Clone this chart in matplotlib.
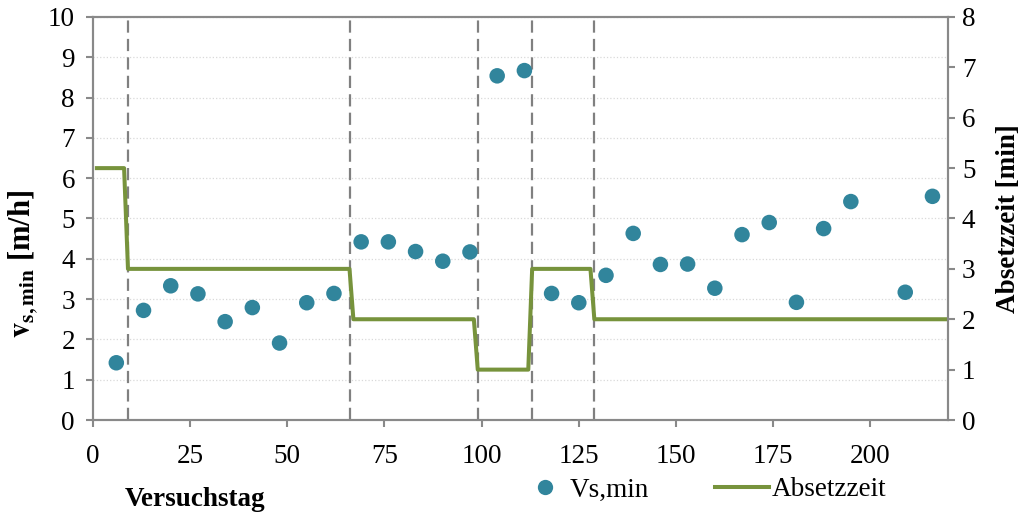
import numpy as np
import matplotlib
matplotlib.use('Agg')
import matplotlib.pyplot as plt
from matplotlib.lines import Line2D

plt.rcParams['font.family'] = ['Liberation Serif', 'DejaVu Serif']
plt.rcParams['mathtext.fontset'] = 'stix'
fs = 19.5

# Versuchstag / Vs,min [m/h]
tag = [6, 13, 20, 27, 34, 41, 48, 55, 62, 69, 76, 83, 90, 97, 104, 111,
       118, 125, 132, 139, 146, 153, 160, 167, 174, 181, 188, 195, 209, 216]
vs_min = [1.42, 2.72, 3.33, 3.13, 2.44, 2.79, 1.91, 2.91, 3.14, 4.42, 4.42, 4.18,
          3.94, 4.17, 8.54, 8.67, 3.14, 2.91, 3.59, 4.63, 3.86, 3.87, 3.27, 4.60,
          4.90, 2.92, 4.75, 5.42, 3.17, 5.55]

# Absetzzeit [min]
abs_tag = [1, 8, 9, 66, 67, 98, 99, 112, 113, 128, 129, 220]
abs_min = [5, 5, 3, 3, 2, 2, 1, 1, 3, 3, 2, 2]

# Phasengrenzen
grenzen = [9, 66, 99, 113, 129]

blau = '#31859C'
gruen = '#77933C'
grau = '#898989'

fig = plt.figure(figsize=(10.22, 5.15), dpi=100)
ax1 = fig.add_axes([93/1022, 1-420/515, (948-93)/1022, (420-17)/515])
ax2 = ax1.twinx()

for g in grenzen:
    ax1.axvline(g, color='#808080', lw=1.6, dashes=(5.5, 2.8), zorder=1)

ax1.scatter(tag, vs_min, s=125, color=blau, edgecolors='none', zorder=3)
ax2.plot(abs_tag, abs_min, color=gruen, lw=2.9, zorder=2)

ax1.set_xlim(0, 220)
ax1.set_ylim(0, 10)
ax2.set_ylim(0, 8)
ax1.set_xticks(np.arange(0, 201, 25))
ax1.set_yticks(np.arange(0, 11, 1))
ax2.set_yticks(np.arange(0, 9, 1))

ax1.yaxis.grid(True, color='#d9d9d9', linestyle=':', lw=0.9)
ax1.set_axisbelow(True)

for ax in (ax1, ax2):
    for s in ax.spines.values():
        s.set_color(grau)
        s.set_linewidth(1.5)
    ax.tick_params(color=grau, width=1.5, length=5, direction='out', labelsize=fs)
ax1.tick_params(axis='x', pad=12)
ax1.tick_params(axis='y', pad=8)
ax2.tick_params(axis='y', pad=5)

ax1.set_ylabel(r'$\mathbf{v}_{\mathbf{s,min}}$ [m/h]', fontweight='bold', fontsize=22)
ax1.yaxis.set_label_coords(-53/855, (420-264)/403)
ax2.set_ylabel('Absetzzeit [min]', fontweight='bold', fontsize=fs, labelpad=15)

fig.text(125/1022, 1-500/515, 'Versuchstag', ha='left', va='center',
         fontweight='bold', fontsize=fs)

h1 = Line2D([], [], ls='none', marker='o', ms=11, color=blau, mec='none')
h2 = Line2D([], [], color=gruen, lw=2.9)
fig.legend([h1], ['Vs,min'], loc='center', bbox_to_anchor=(593/1022, 1-490/515),
           frameon=False, fontsize=fs, handlelength=0.6, handletextpad=0.6)
fig.legend([h2], ['Absetzzeit'], loc='center', bbox_to_anchor=(801/1022, 1-490/515),
           frameon=False, fontsize=fs, handlelength=2.0, handletextpad=0.1)

fig.savefig('out.png', dpi=100)
